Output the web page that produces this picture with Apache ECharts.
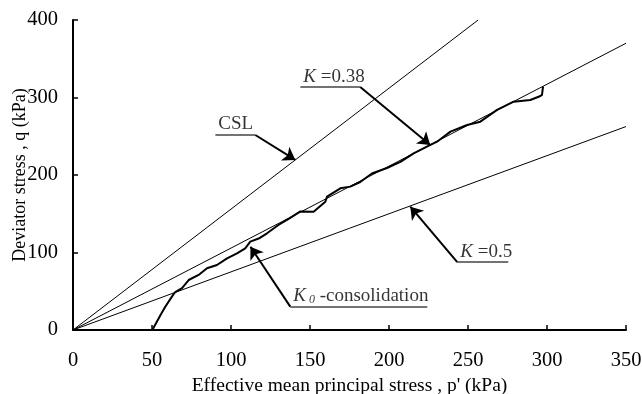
<!DOCTYPE html>
<html>
<head>
<meta charset="utf-8">
<script src="https://cdn.jsdelivr.net/npm/echarts@6/dist/echarts.min.js"></script>
<style>
  html, body { margin: 0; padding: 0; background: #fff; }
  #container { width: 642px; height: 394px; }
</style>
</head>
<body>
<div id="container"></div>
<script>
// measured test path (p', q) in kPa
const testPath = [
  [50.2, 0], [55.3, 19], [58.4, 30], [62.6, 43], [64.7, 49], [69, 54],
  [73.2, 64.5], [79.5, 71], [84.8, 79.6], [91.1, 83.9], [97.5, 92.5],
  [103.8, 99], [109, 105.4], [112.2, 114], [117.5, 118], [122.8, 124.8],
  [130, 135.5], [137, 144], [143.9, 153], [152.3, 152.6], [159.7, 165.5],
  [160.8, 172], [169.2, 182.8], [175.5, 185], [181.8, 191], [189.2, 202],
  [198.7, 209], [207.2, 217], [215.6, 228], [224, 236.5], [230.4, 243],
  [238.9, 256], [249.4, 264.5], [257.8, 268.8], [268.4, 284], [278.9, 294.6],
  [289.4, 296.8], [294.7, 301], [296.8, 303], [297.5, 314]
]

// reference lines through origin
const cslLine = [[0, 0], [256.4, 400]]
const k038Line = [[0, 0], [350, 370]]
const k05Line = [[0, 0], [350, 262.5]]

const xTicks = [0, 50, 100, 150, 200, 250, 300, 350]
const yTicks = [0, 100, 200, 300, 400]

// annotation leaders: underline from -> to, then arrow to tip
const leaders = [
  { text: 'CSL', from: [90.1, 251.6], to: [115.4, 251.6], tip: [140.7, 219.4] },
  { text: '{i|K} =0.38', from: [143.9, 313.5], to: [181.8, 313.5], tip: [226.1, 238.7] },
  { text: '{i|K} =0.5', from: [275.5, 87.7], to: [243.2, 87.7], tip: [213.5, 159.1], anchor: [243.2, 87.7] },
  { text: '{i|K}{s| 0} -consolidation', from: [224.2, 30.1], to: [137.5, 30.1], tip: [112.3, 107.5], anchor: [137.5, 30.1] }
]

const font = 'Liberation Serif'
const myChart = echarts.init(document.getElementById('container'))

const thin = (data) => ({
  type: 'line',
  data: data,
  symbol: 'none',
  silent: true,
  lineStyle: { color: '#000', width: 1 },
  z: 2
})

myChart.setOption({
  animation: false,
  backgroundColor: '#fff',
  grid: { left: 73, right: 16, top: 20, bottom: 64, containLabel: false, outerBoundsMode: 'none' },
  xAxis: {
    type: 'value',
    min: 0,
    max: 350,
    interval: 50,
    name: "Effective mean principal stress , p' (kPa)",
    nameLocation: 'middle',
    nameGap: 46,
    nameMoveOverlap: false,
    nameTextStyle: { fontFamily: font, fontSize: 19.5, color: '#000' },
    axisLine: { onZero: false, lineStyle: { color: '#000', width: 2 } },
    axisTick: { inside: true, length: 5, lineStyle: { color: '#000', width: 1.5 } },
    axisLabel: {
      margin: 20, fontFamily: font, fontSize: 20.5, color: '#000',
      customValues: xTicks
    },
    splitLine: { show: false }
  },
  yAxis: {
    type: 'value',
    min: 0,
    max: 400,
    interval: 100,
    name: 'Deviator stress , q (kPa)',
    nameLocation: 'middle',
    nameGap: 44,
    nameMoveOverlap: false,
    nameTextStyle: { fontFamily: font, fontSize: 18, color: '#000' },
    axisLine: { show: true, onZero: false, lineStyle: { color: '#000', width: 2 } },
    axisTick: { show: true, inside: true, length: 5, lineStyle: { color: '#000', width: 1.5 } },
    axisLabel: {
      margin: 15, fontFamily: font, fontSize: 20.5, color: '#000',
      customValues: yTicks
    },
    splitLine: { show: false }
  },
  series: [
    thin(cslLine),
    thin(k038Line),
    thin(k05Line),
    {
      type: 'line',
      data: testPath,
      symbol: 'none',
      silent: true,
      lineStyle: { color: '#000', width: 2 },
      z: 3
    },
    {
      type: 'lines',
      coordinateSystem: 'cartesian2d',
      silent: true,
      symbol: 'none',
      lineStyle: { color: '#444', width: 1.5, opacity: 1 },
      data: leaders.map(d => ({ coords: [d.from, d.to] })),
      z: 4
    },
    {
      type: 'lines',
      coordinateSystem: 'cartesian2d',
      silent: true,
      symbol: ['none', 'arrow'],
      symbolSize: 12,
      lineStyle: { color: '#000', width: 2, opacity: 1 },
      data: leaders.map(d => ({ coords: [d.to, d.tip] })),
      z: 4
    },
    {
      type: 'scatter',
      symbolSize: 0,
      silent: true,
      data: leaders.map(d => ({
        value: d.anchor || d.from,
        label: {
          show: true,
          formatter: d.text,
          position: [3, -1],
          align: 'left',
          verticalAlign: 'bottom',
          fontFamily: font,
          fontSize: 19,
          color: '#000',
          rich: {
            i: { fontFamily: font, fontSize: 19, fontStyle: 'italic', color: '#000' },
            s: { fontFamily: font, fontSize: 12, fontStyle: 'italic', color: '#000', verticalAlign: 'bottom', padding: [8, 0, 0, 0] }
          }
        }
      })),
      z: 5
    }
  ]
})
</script>
</body>
</html>
